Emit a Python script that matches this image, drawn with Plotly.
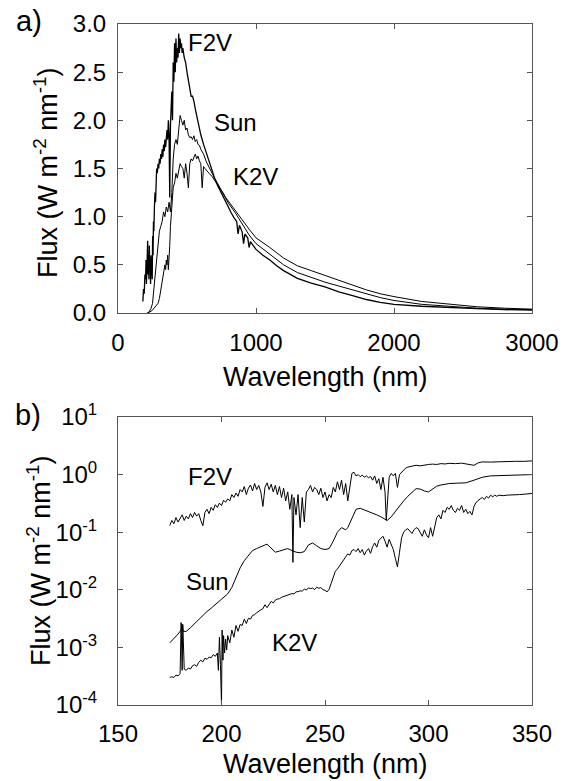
import numpy as np
import plotly.graph_objects as go

# ---------------- Panel a data (linear, 0-3000 nm) ----------------
a_f2v_wl = [180,185,190,195,200,203,206,209,212,215,218,221,224,227,230,233,236,239,242,245,248,251,254,257,260,264,268,272,276,280,285,290,295,300,305,310,315,320,325,330,335,340,345,350,355,360,365,370,375,380,385,390,395,400,405,410,415,420,425,430,435,440,445,450,455,460,465,470,480,490,500,510,520,530,540,550,560,570,580,590,600,620,640,660,680,700,720,740,760,780,800,820,840,860,870,880,900,910,920,940,950,960,980,1000,1050,1100,1150,1200,1300,1400,1500,1600,1700,1800,1900,2000,2200,2400,2600,2800,3000]
a_f2v_fx = [0.12,0.25,0.20,0.40,0.35,0.55,0.30,0.65,0.45,0.75,0.40,0.60,0.35,0.70,0.45,0.55,0.30,0.60,0.40,0.55,0.35,0.80,0.60,0.95,0.85,1.10,1.25,1.15,1.40,1.50,1.45,1.55,1.50,1.60,1.55,1.65,1.60,1.70,1.62,1.75,1.68,1.80,1.72,1.85,1.90,1.80,2.00,1.85,1.20,1.95,2.10,2.30,2.00,2.60,2.40,2.80,2.50,2.85,2.60,2.75,2.65,2.90,2.70,2.85,2.75,2.80,2.70,2.75,2.65,2.60,2.50,2.40,2.35,2.25,2.25,2.20,2.12,2.05,1.98,1.92,1.85,1.75,1.66,1.57,1.48,1.40,1.33,1.27,1.21,1.15,1.10,1.04,0.99,0.95,0.82,0.91,0.84,0.72,0.82,0.78,0.68,0.74,0.70,0.66,0.60,0.55,0.49,0.44,0.36,0.31,0.27,0.22,0.18,0.14,0.11,0.09,0.07,0.055,0.045,0.035,0.03]

a_sun_wl = [220,230,240,250,260,270,280,290,300,310,320,330,340,350,360,370,380,390,400,410,420,430,440,450,460,470,480,490,500,510,520,530,540,550,560,570,580,590,600,620,640,660,680,700,720,740,760,780,800,850,900,950,1000,1100,1200,1300,1400,1500,1600,1700,1800,1900,2000,2200,2400,2600,2800,3000]
a_sun_fx = [0.00,0.02,0.05,0.10,0.25,0.45,0.60,0.75,0.85,0.90,0.95,1.05,1.00,1.10,1.05,1.15,1.05,1.25,1.60,1.75,1.80,1.75,1.95,2.05,2.00,1.95,2.00,1.90,1.92,1.85,1.82,1.83,1.80,1.84,1.78,1.80,1.75,1.74,1.70,1.65,1.57,1.51,1.45,1.40,1.35,1.30,1.24,1.19,1.14,1.04,0.92,0.81,0.72,0.61,0.50,0.42,0.37,0.32,0.28,0.24,0.20,0.16,0.13,0.09,0.07,0.05,0.04,0.035]

a_k2v_wl = [210,230,250,270,290,300,310,320,330,340,345,350,355,360,365,370,375,380,385,390,395,400,410,420,430,440,450,460,470,480,490,500,510,520,530,540,550,560,570,580,590,600,610,620,630,640,660,680,700,720,740,760,780,800,850,900,950,1000,1100,1200,1300,1400,1500,1600,1700,1800,1900,2000,2200,2400,2600,2800,3000]
a_k2v_fx = [0.00,0.01,0.03,0.06,0.10,0.15,0.25,0.35,0.40,0.50,0.45,0.55,0.50,0.60,0.45,0.55,0.70,0.90,1.00,1.05,1.15,1.30,1.35,1.45,1.40,1.50,1.55,1.52,1.50,1.40,1.55,1.45,1.30,1.55,1.60,1.58,1.62,1.65,1.60,1.63,1.58,1.55,1.30,1.52,1.50,1.48,1.45,1.42,1.38,1.34,1.30,1.25,1.20,1.16,1.06,0.97,0.87,0.78,0.68,0.57,0.49,0.44,0.39,0.34,0.29,0.24,0.20,0.17,0.12,0.09,0.065,0.05,0.04]

# ---------------- Panel b data (log, 150-350 nm) ----------------
b_f2v_wl = [175,176,177,178,179,180,181,182,183,184,185,186,187,188,189,190,191,192,193,194,195,196,197,198,199,200,201,202,203,204,205,206,207,208,209,210,211,212,213,214,215,216,217,218,219,220,221,222,223,224,225,226,227,228,229,230,231,232,233,234,234.5,235,236,237,238,239,240,241,242,243,244,245,246,247,248,249,250,251,252,253,254,255,256,257,258,259,260,261,262,263,264,265,266,267,268,269,270,271,272,273,274,275,276,277,278,279,279.6,280,281,282,283,284,285,286,287,288,289,290,292,294,296,298,300,302,304,306,308,310,313,316,319,322,324,326,330,334,338,342,346,350]
b_f2v_fx = [0.13,0.16,0.14,0.18,0.15,0.17,0.20,0.16,0.19,0.17,0.21,0.18,0.22,0.19,0.21,0.16,0.13,0.22,0.25,0.21,0.27,0.24,0.30,0.27,0.32,0.29,0.36,0.33,0.38,0.35,0.45,0.40,0.48,0.42,0.55,0.50,0.62,0.45,0.58,0.66,0.52,0.70,0.55,0.65,0.50,0.28,0.60,0.72,0.55,0.68,0.50,0.65,0.45,0.62,0.40,0.58,0.35,0.50,0.25,0.45,0.03,0.40,0.20,0.45,0.12,0.40,0.15,0.50,0.55,0.65,0.50,0.60,0.55,0.45,0.58,0.40,0.50,0.35,0.45,0.40,0.60,0.50,0.75,0.55,0.80,0.45,0.70,0.35,0.60,1.05,1.10,0.95,1.00,0.92,0.98,0.90,0.95,0.88,0.93,0.80,0.95,0.70,0.85,0.55,0.90,0.50,0.16,0.30,0.90,1.05,0.95,1.05,0.60,1.00,1.10,1.20,1.30,1.35,1.40,1.45,1.42,1.48,1.50,1.52,1.50,1.55,1.53,1.57,1.55,1.58,1.53,1.45,1.60,1.66,1.65,1.68,1.66,1.70,1.70,1.73]

b_sun_wl = [175,177,179,180.5,181,181.5,183,185,187,189,191,193,195,197,199,201,203,205,207,209,211,213,215,217,219,221,222,224,226,228,230,232,234,236,238,240,242,244,246,248,250,252,254,256,258,259,260,261,263,265,267,269,271,273,275,277,279,280,282,284,286,288,290,292,294,296,298,300,302,304,306,308,310,314,318,322,326,330,334,338,342,346,350]
b_sun_fx = [1.2e-3,1.4e-3,1.7e-3,2.0e-3,2.5e-3,1.9e-3,1.9e-3,2.2e-3,2.6e-3,3.1e-3,3.6e-3,4.2e-3,4.8e-3,5.5e-3,6.3e-3,7.2e-3,8.5e-3,0.011,0.016,0.024,0.032,0.040,0.048,0.052,0.055,0.060,0.062,0.052,0.045,0.047,0.050,0.052,0.048,0.045,0.044,0.046,0.060,0.065,0.058,0.052,0.050,0.052,0.070,0.100,0.120,0.115,0.110,0.120,0.180,0.250,0.260,0.245,0.230,0.215,0.200,0.185,0.165,0.160,0.185,0.230,0.290,0.350,0.420,0.500,0.570,0.560,0.520,0.500,0.560,0.630,0.660,0.690,0.700,0.710,0.720,0.800,0.900,0.950,0.960,0.970,0.980,0.990,1.000]

b_k2v_wl = [175,176,177,178,179,180,180.5,181,181.3,181.8,182,183,184,185,186,187,188,189,190,191,192,193,194,195,196,197,198,198.5,199,199.5,200,200.3,200.7,201,201.5,202,202.5,203,204,205,206,207,208,209,210,211,212,213,214,215,216,217,218,219,220,221,222,223,224,225,226,227,228,229,230,231,232,233,234,235,236,237,238,239,240,241,242,243,244,245,246,247,248,249,250,251,252,253,254,255,256,257,258,259,260,261,262,263,264,265,266,267,268,269,270,271,272,273,274,275,276,277,278,279,280,281,282,283,284,285,286,287,288,289,290,291,292,293,294,295,296,297,298,299,300,301,302,303,304,305,306,307,308,309,310,311,312,313,314,315,316,317,318,319,320,321,322,323,324,325,326,327,328,329,330,331,332,333,334,336,338,340,344,347,350]
b_k2v_fx = [3.0e-4,3.1e-4,3.0e-4,3.3e-4,3.2e-4,3.5e-4,2.7e-3,4.0e-4,2.5e-3,4.5e-4,4.2e-4,4.0e-4,4.4e-4,4.2e-4,4.8e-4,5.0e-4,4.7e-4,5.5e-4,6.0e-4,5.6e-4,6.5e-4,6.2e-4,6.8e-4,6.6e-4,7.5e-4,7.0e-4,8.0e-4,4.0e-4,1.5e-3,5.0e-4,1.0e-4,2.0e-3,6.0e-4,1.6e-3,8.0e-4,1.4e-3,9.0e-4,1.6e-3,1.2e-3,2.0e-3,1.5e-3,2.4e-3,1.9e-3,2.5e-3,2.4e-3,3.1e-3,2.6e-3,3.2e-3,3.1e-3,3.6e-3,3.7e-3,4.0e-3,4.3e-3,4.5e-3,4.7e-3,5.5e-3,4.9e-3,5.6e-3,6.3e-3,5.9e-3,6.6e-3,6.9e-3,7.0e-3,7.4e-3,7.6e-3,7.8e-3,8.0e-3,8.4e-3,8.6e-3,8.5e-3,9.2e-3,9.3e-3,9.6e-3,9.5e-3,0.0103,0.0099,0.0108,0.0105,0.0107,0.0101,0.0111,0.0106,0.0109,0.0101,0.0098,0.0092,0.0102,0.0130,0.0170,0.0210,0.0230,0.0260,0.0300,0.0330,0.0380,0.0420,0.0400,0.0480,0.0500,0.0460,0.0520,0.0440,0.0500,0.0400,0.0470,0.0520,0.0430,0.0560,0.0650,0.0550,0.0720,0.0800,0.0850,0.0700,0.0550,0.0750,0.0600,0.0500,0.0350,0.0250,0.0450,0.0800,0.1000,0.1100,0.1150,0.1050,0.0950,0.1100,0.1200,0.1150,0.1000,0.0850,0.1100,0.0900,0.0800,0.1200,0.0850,0.1300,0.1800,0.2000,0.1700,0.2400,0.2200,0.2700,0.2500,0.2900,0.2400,0.2200,0.2600,0.2400,0.2900,0.2200,0.2500,0.2100,0.2300,0.2000,0.2800,0.3300,0.3600,0.3800,0.4000,0.3700,0.4200,0.3900,0.4400,0.4100,0.4400,0.4200,0.4400,0.4300,0.4400,0.4400,0.4500,0.4600,0.4700]

a_xticks = [0, 1000, 2000, 3000]
a_yticks = [0.0, 0.5, 1.0, 1.5, 2.0, 2.5, 3.0]
b_xticks = [150, 200, 250, 300, 350]
b_yticks = [1e-4, 1e-3, 1e-2, 1e-1, 1e0, 1e1]
b_yticktext = ["10<sup>-4</sup>", "10<sup>-3</sup>", "10<sup>-2</sup>", "10<sup>-1</sup>", "10<sup>0</sup>", "10<sup>1</sup>"]

FONT = "Liberation Sans, Arial, sans-serif"
W, H = 575, 781
L, R = 118, 532
A_T, A_B = 24, 313
B_T, B_B = 417, 705

fig = go.Figure()
line = dict(color="black", width=1)
fig.add_trace(go.Scatter(x=a_f2v_wl, y=a_f2v_fx, mode="lines", line=dict(color="black", width=1.3), xaxis="x", yaxis="y"))
fig.add_trace(go.Scatter(x=a_sun_wl, y=a_sun_fx, mode="lines", line=line, xaxis="x", yaxis="y"))
fig.add_trace(go.Scatter(x=a_k2v_wl, y=a_k2v_fx, mode="lines", line=line, xaxis="x", yaxis="y"))
fig.add_trace(go.Scatter(x=b_f2v_wl, y=b_f2v_fx, mode="lines", line=line, xaxis="x2", yaxis="y2"))
fig.add_trace(go.Scatter(x=b_sun_wl, y=b_sun_fx, mode="lines", line=line, xaxis="x2", yaxis="y2"))
fig.add_trace(go.Scatter(x=b_k2v_wl, y=b_k2v_fx, mode="lines", line=line, xaxis="x2", yaxis="y2"))

axcommon = dict(showline=True, linecolor="#555", linewidth=1, mirror="ticks", ticks="inside",
                ticklen=5, tickcolor="#555", showgrid=False, zeroline=False,
                tickfont=dict(family=FONT, size=24, color="black"), automargin=False)

xd = [L / W, R / W]
fig.update_layout(
    width=W, height=H, margin=dict(l=0, r=0, t=0, b=0),
    paper_bgcolor="white", plot_bgcolor="white", showlegend=False,
    xaxis=dict(domain=xd, range=[0, 3000], tickvals=a_xticks, anchor="y",
               ticklabelstandoff=8, **axcommon),
    yaxis=dict(domain=[1 - A_B / H, 1 - A_T / H], range=[0, 3], tickvals=a_yticks,
               tickformat=".1f", anchor="x", ticklabelstandoff=6, **axcommon),
    xaxis2=dict(domain=xd, range=[150, 350], tickvals=b_xticks, anchor="y2",
                ticklabelstandoff=7, **axcommon),
    yaxis2=dict(domain=[1 - B_B / H, 1 - B_T / H], type="log", range=[-4, 1],
                tickvals=b_yticks, ticktext=b_yticktext, anchor="x2",
                ticklabelstandoff=15, **axcommon),
)

def ann(text, x, y, size=24, **kw):
    fig.add_annotation(text=text, x=x, y=y, showarrow=False, xanchor="center", yanchor="middle",
                       font=dict(family=FONT, size=size, color="black"), **kw)

# curve labels
ann("F2V", 667, 2.81, xref="x", yref="y")
ann("Sun", 848, 1.98, xref="x", yref="y")
ann("K2V", 993, 1.42, xref="x", yref="y")
ann("F2V", 194.4, np.log10(0.91), xref="x2", yref="y2")
ann("Sun", 193, np.log10(0.0138), xref="x2", yref="y2")
ann("K2V", 235.5, np.log10(1.2e-3), xref="x2", yref="y2")

# panel letters
ann("a)", 29 / W, 1 - 21 / H, size=29, xref="paper", yref="paper")
ann("b)", 28 / W, 1 - 415 / H, size=29, xref="paper", yref="paper")

# axis titles
ytitle = "Flux (W m<sup>-2</sup> nm<sup>-1</sup>)"
ann("Wavelength (nm)", (L + R) / 2 / W, 1 - 377 / H, size=27, xref="paper", yref="paper")
ann("Wavelength (nm)", (L + R) / 2 / W, 1 - 764 / H, size=27, xref="paper", yref="paper")
ann(ytitle, 46 / W, 1 - 173 / H, size=27, xref="paper", yref="paper", textangle=-90)
ann(ytitle, 39 / W, 1 - 561 / H, size=27, xref="paper", yref="paper", textangle=-90)

fig.write_html("out.html")
